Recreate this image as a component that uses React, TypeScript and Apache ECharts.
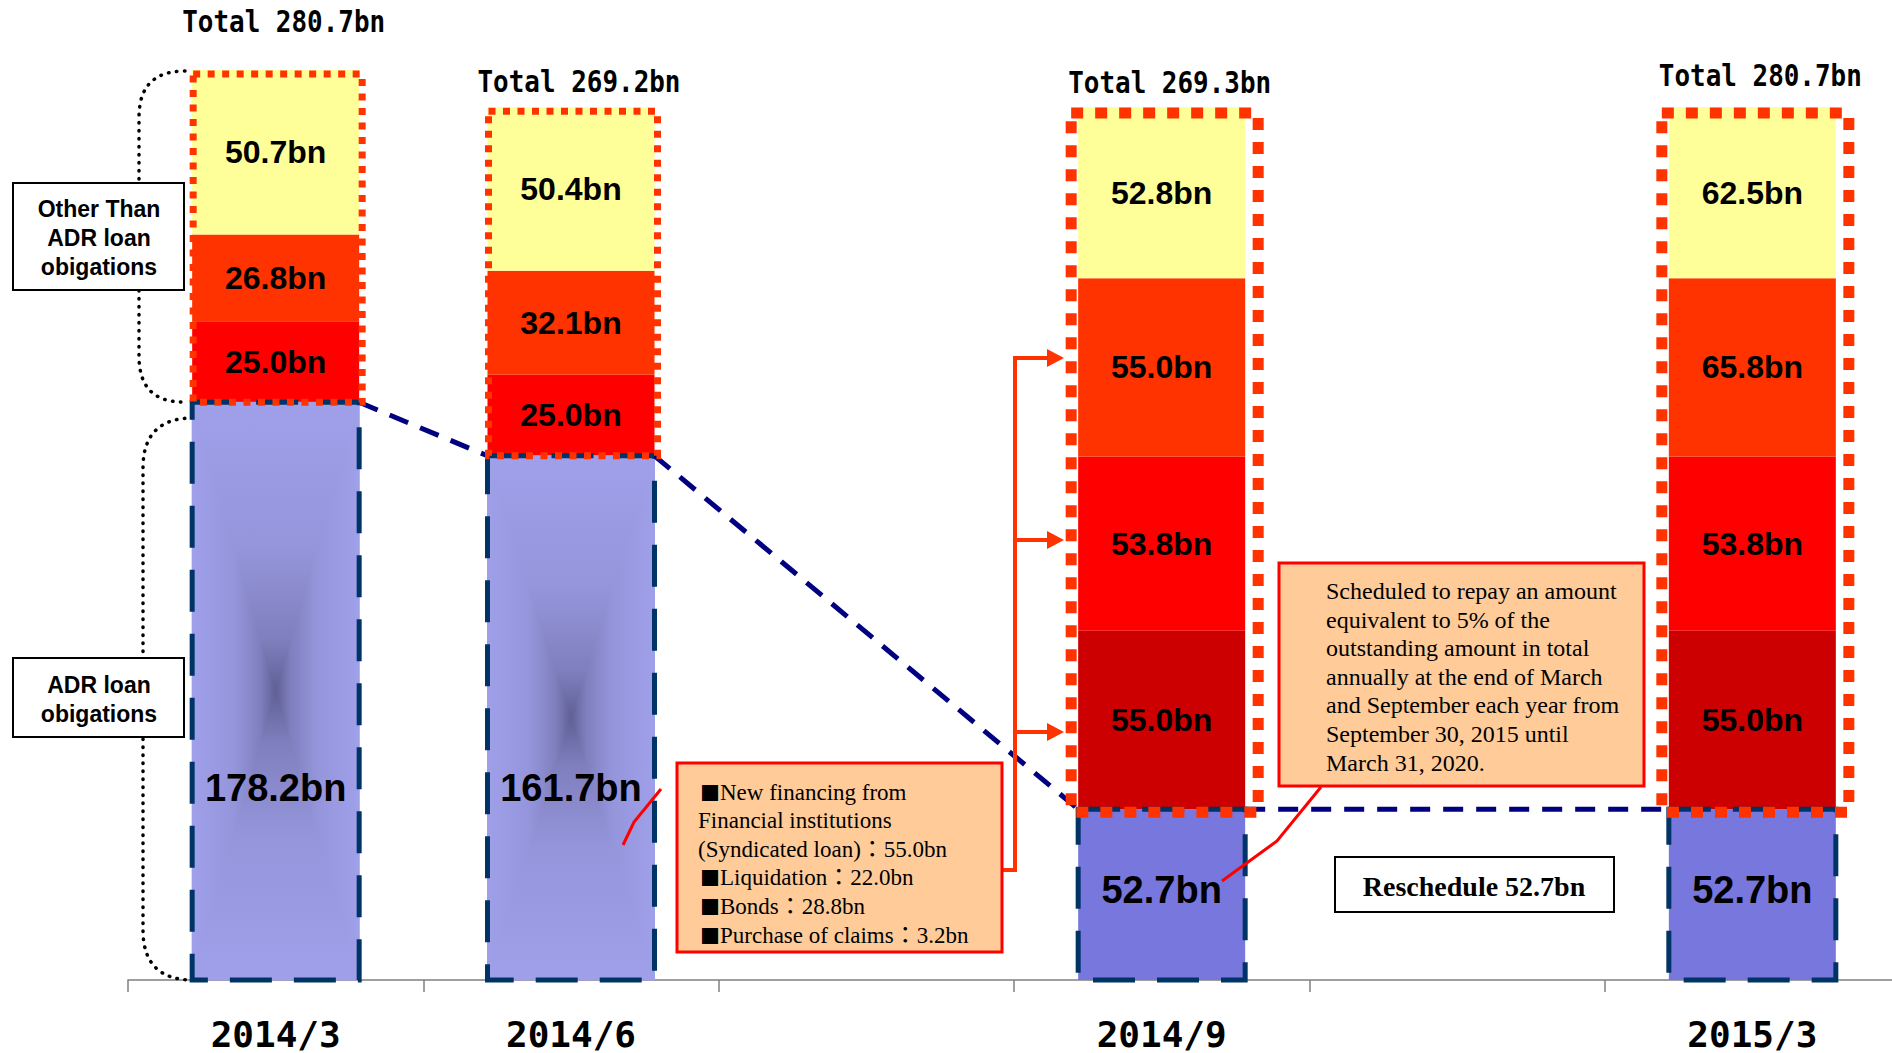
import React, { useEffect, useRef } from 'react';
import * as echarts from 'echarts';

// ---------------- data ----------------
const categories = ['2014/3', '2014/6', '', '2014/9', '', '2015/3'];
const adrLoan = [178.2, 161.7, null, 52.7, null, 52.7];
const newFinancing = [null, null, null, 55.0, null, 55.0];
const redSeg = [25.0, 25.0, null, 53.8, null, 53.8];
// drawn heights
const orangeSeg = [26.8, 32.1, null, 55.0, null, 55.0];
const yellowSeg = [50.7, 50.4, null, 52.8, null, 52.8];
// printed values
const orangeLabelValues = [26.8, 32.1, null, 55.0, null, 65.8];
const yellowLabelValues = [50.7, 50.4, null, 52.8, null, 62.5];
const totalLabelValues = [280.7, 269.2, null, 269.3, null, 280.7];

const newFinancingLines = [
  '{sq|■}New financing from',
  'Financial institutions',
  '(Syndicated loan)：55.0bn',
  '{sq|■}Liquidation：22.0bn',
  '{sq|■}Bonds：28.8bn',
  '{sq|■}Purchase of claims：3.2bn',
];
const scheduleLines = [
  'Scheduled to repay an amount',
  'equivalent to 5% of the',
  'outstanding amount in total',
  'annually at the end of March',
  'and September each year from',
  'September 30, 2015 until',
  'March 31, 2020.',
];

// ---------------- styles ----------------
const BAR_W = 167;
const Y_MAX = 302.3;
const ADR_LABEL_LEVEL = 59.2;
const totalLabelGap = [48, 25, 0, 24, 0, 31];
const SANS = '"Liberation Sans", Arial, sans-serif';
const MONO = '"DejaVu Sans Mono", monospace';
const SERIF = '"Liberation Serif", "Times New Roman", "Noto Sans CJK JP", serif';

const adrGradStops = [
  { offset: 0, color: '#A0A0EA' },
  { offset: 0.5, color: '#9595DC' },
  { offset: 0.82, color: '#7F7FBE' },
  { offset: 1, color: '#606096' },
];

echarts.graphic.registerShape(
  'braceShape',
  echarts.graphic.extendPath(
    'M185,71 Q139,71 139,117 L139,356 Q139,402 183,402 M193,418 Q143,418 143,468 L143,930 Q143,980 193,980',
    {}
  )
);

const fmt = (v: number | null) => (v == null ? '' : `${v.toFixed(1)}bn`);

const segLabel = (vals: (number | null)[]) => ({
  show: true,
  position: 'inside',
  color: '#000',
  fontSize: 32,
  fontWeight: 'bold',
  fontFamily: SANS,
  formatter: (p: any) => fmt(vals[p.dataIndex]),
});

const stackTotals = categories.map((_, i) =>
  adrLoan[i] == null
    ? null
    : (adrLoan[i] as number) + (newFinancing[i] || 0) + (redSeg[i] || 0) + (orangeSeg[i] || 0) + (yellowSeg[i] || 0)
);

const barIdx = categories.map((_, i) => i).filter((i) => adrLoan[i] != null);
const connectorPairs: number[][] = [];
for (let k = 0; k < barIdx.length - 1; k++) {
  const a = barIdx[k];
  const b = barIdx[k + 1];
  connectorPairs.push([a, adrLoan[a] as number, b, adrLoan[b] as number]);
}

function buildOption() {
  const lg = (x: number, y: number, x2: number, y2: number) =>
    new echarts.graphic.LinearGradient(x, y, x2, y2, adrGradStops);

  const graphics: any[] = [];
  graphics.push({
    type: 'braceShape',
    x: 0,
    y: 0,
    z: 1,
    style: { fill: 'none', stroke: '#000', lineWidth: 3.5, lineDash: [0.5, 7.5], lineCap: 'round' },
  });
  const box = (x: number, y: number, w: number, h: number, fill: string, stroke: string, lw: number) => ({
    type: 'rect',
    z: 10,
    shape: { x, y, width: w, height: h },
    style: { fill, stroke, lineWidth: lw },
  });
  const txt = (t: string, x: number, y: number, font: string, align = 'left', rich?: any) => ({
    type: 'text',
    z: 11,
    x,
    y,
    style: {
      text: t,
      fill: '#000',
      font,
      align,
      textAlign: align,
      verticalAlign: 'middle',
      textVerticalAlign: 'middle',
      ...(rich ? { rich } : {}),
    },
  });
  // left side boxes
  graphics.push(box(13, 183, 171, 107, '#fff', '#000', 2));
  ['Other Than', 'ADR loan', 'obigations'].forEach((t, i) =>
    graphics.push(txt(t, 99, 209 + i * 29, `bold 23px ${SANS}`, 'center'))
  );
  graphics.push(box(13, 658, 171, 79, '#fff', '#000', 2));
  ['ADR loan', 'obigations'].forEach((t, i) => graphics.push(txt(t, 99, 685 + i * 29, `bold 23px ${SANS}`, 'center')));

  // orange connector with arrows
  graphics.push({
    type: 'polyline',
    z: 9,
    shape: { points: [[1003, 870], [1015, 870], [1015, 356]] },
    style: { stroke: '#FF3300', lineWidth: 4, fill: 'none' },
  });
  [358, 540, 732].forEach((y) => {
    graphics.push({
      type: 'line',
      z: 9,
      shape: { x1: 1015, y1: y, x2: 1050, y2: y },
      style: { stroke: '#FF3300', lineWidth: 4 },
    });
    graphics.push({
      type: 'polygon',
      z: 9,
      shape: { points: [[1047, y - 9], [1064, y], [1047, y + 9]] },
      style: { fill: '#FF3300' },
    });
  });

  // red callout lines
  graphics.push({
    type: 'polyline',
    z: 12,
    shape: { points: [[661, 789], [634, 822], [623, 845]] },
    style: { stroke: '#FF0000', lineWidth: 3, fill: 'none' },
  });
  graphics.push({
    type: 'polyline',
    z: 12,
    shape: { points: [[1222, 881], [1277, 841], [1321, 787]] },
    style: { stroke: '#FF0000', lineWidth: 3, fill: 'none' },
  });

  // new financing box
  const sqRich = { sq: { font: '20px "Noto Sans CJK JP"', fill: '#000' } };
  graphics.push(box(677, 763, 325, 189, '#FFCC99', '#FF0000', 3));
  newFinancingLines.forEach((t, i) =>
    graphics.push(txt(t, i === 1 || i === 2 ? 698 : 700, 792 + i * 28.6, `23px ${SERIF}`, 'left', sqRich))
  );

  // schedule box
  graphics.push(box(1279, 563, 365, 223, '#FFCC99', '#FF0000', 3));
  scheduleLines.forEach((t, i) => graphics.push(txt(t, 1326, 591 + i * 28.6, `24px ${SERIF}`)));

  // reschedule box
  graphics.push(box(1335, 857, 279, 55, '#fff', '#000', 2));
  graphics.push(txt('Reschedule 52.7bn', 1474, 886, `bold 28px ${SERIF}`, 'center'));

  return {
    animation: false,
    backgroundColor: '#fff',
    grid: { left: 128, right: 0, top: 0, bottom: 73, containLabel: false },
    xAxis: {
      type: 'category',
      data: categories,
      boundaryGap: true,
      axisLine: { lineStyle: { color: '#7F7F7F', width: 1.5 } },
      axisTick: { show: true, interval: 0, length: 12, lineStyle: { color: '#7F7F7F', width: 1.5 } },
      axisLabel: {
        interval: 0,
        margin: 36,
        fontSize: 36,
        fontWeight: 'bold',
        fontFamily: MONO,
        color: '#000',
      },
      splitLine: { show: false },
    },
    yAxis: { type: 'value', min: 0, max: Y_MAX, show: false },
    series: [
      {
        name: 'ADR loan obligations',
        type: 'bar',
        stack: 'total',
        barWidth: BAR_W,
        z: 2,
        data: adrLoan.map((v, i) => ({ value: v, itemStyle: { color: i < 2 ? '#A0A0EA' : '#7777DD' } })),
      },
      {
        name: 'New financing',
        type: 'bar',
        stack: 'total',
        barWidth: BAR_W,
        z: 2,
        itemStyle: { color: '#CC0000' },
        label: segLabel(newFinancing),
        data: newFinancing,
      },
      {
        name: 'Red',
        type: 'bar',
        stack: 'total',
        barWidth: BAR_W,
        z: 2,
        itemStyle: { color: '#FF0000' },
        label: segLabel(redSeg),
        data: redSeg,
      },
      {
        name: 'Orange',
        type: 'bar',
        stack: 'total',
        barWidth: BAR_W,
        z: 2,
        itemStyle: { color: '#FF3300' },
        label: segLabel(orangeLabelValues),
        data: orangeSeg,
      },
      {
        name: 'Yellow',
        type: 'bar',
        stack: 'total',
        barWidth: BAR_W,
        z: 2,
        itemStyle: { color: '#FFFF99' },
        label: segLabel(yellowLabelValues),
        data: yellowSeg,
      },
      {
        name: 'adrOverlay',
        type: 'custom',
        z: 3,
        encode: { x: 0, y: 1 },
        data: barIdx.map((i) => [i, adrLoan[i]]),
        renderItem: (params: any, api: any) => {
          const cat = api.value(0);
          const v = api.value(1);
          const top = api.coord([cat, v]);
          const bot = api.coord([cat, 0]);
          const cx = top[0];
          const x0 = cx - BAR_W / 2;
          const x1 = cx + BAR_W / 2;
          const y0 = top[1];
          const y1 = bot[1];
          const my = (y0 + y1) / 2;
          const children: any[] = [];
          const grad = cat < 2;
          if (grad) {
            const mk = (pts: number[][], a: number, b: number, c: number, d: number) => ({
              type: 'polygon',
              shape: { points: pts },
              style: { fill: lg(a, b, c, d), stroke: lg(a, b, c, d), lineWidth: 1 },
            });
            children.push(mk([[x0, y0], [x1, y0], [cx, my]], 0, 0, 0, 1));
            children.push(mk([[x0, y1], [x1, y1], [cx, my]], 0, 1, 0, 0));
            children.push(mk([[x0, y0], [x0, y1], [cx, my]], 0, 0, 1, 0));
            children.push(mk([[x1, y0], [x1, y1], [cx, my]], 1, 0, 0, 0));
          }
          children.push({
            type: 'rect',
            shape: { x: x0, y: y0, width: BAR_W, height: y1 - y0 },
            style: { fill: 'none', stroke: '#003366', lineWidth: 5, lineDash: [42, 22] },
          });
          const ly = grad ? api.coord([cat, ADR_LABEL_LEVEL])[1] : my - 5;
          children.push({
            type: 'text',
            x: cx,
            y: ly,
            style: {
              text: fmt(v),
              fill: '#000',
              font: `bold 38px ${SANS}`,
              align: 'center',
              textAlign: 'center',
              verticalAlign: 'middle',
              textVerticalAlign: 'middle',
            },
          });
          return { type: 'group', children };
        },
      },
      {
        name: 'connector',
        type: 'custom',
        z: 4,
        encode: { x: 0, y: 1 },
        data: connectorPairs,
        renderItem: (params: any, api: any) => {
          const a = api.coord([api.value(0), api.value(1)]);
          const b = api.coord([api.value(2), api.value(3)]);
          return {
            type: 'polyline',
            shape: { points: [[a[0] + BAR_W / 2, a[1]], [b[0] - BAR_W / 2, b[1]]] },
            style: { stroke: '#000080', lineWidth: 5, lineDash: [20, 13], fill: 'none' },
          };
        },
      },
      {
        name: 'frames',
        type: 'custom',
        z: 5,
        encode: { x: 0, y: 2 },
        data: barIdx.map((i) => [i, adrLoan[i], stackTotals[i]]),
        renderItem: (params: any, api: any) => {
          const cat = api.value(0);
          const a = api.coord([cat, api.value(1)]);
          const t = api.coord([cat, api.value(2)]);
          const cx = a[0];
          const big = newFinancing[cat] != null;
          const pad = big ? { l: -7, r: 13, t: 6, b: 3 } : { l: 1, r: 3, t: 4, b: 0 };
          const x = cx - BAR_W / 2 + pad.l;
          const y = t[1] + pad.t;
          return {
            type: 'group',
            children: [
              {
                type: 'rect',
                shape: { x, y, width: BAR_W - pad.l + pad.r, height: a[1] + pad.b - y },
                style: {
                  fill: 'none',
                  stroke: '#FF3300',
                  lineWidth: big ? 11 : 7,
                  lineDash: big ? [12, 12] : [7, 7.5],
                },
              },
              {
                type: 'text',
                x: cx + 8,
                y: t[1] - totalLabelGap[cat],
                scaleX: 0.865,
                style: {
                  text: `Total ${(totalLabelValues[cat] as number).toFixed(1)}bn`,
                  fill: '#000',
                  font: `bold 30px ${MONO}`,
                  align: 'center',
                  textAlign: 'center',
                  verticalAlign: 'middle',
                  textVerticalAlign: 'middle',
                },
              },
            ],
          };
        },
      },
    ],
    graphic: { elements: graphics },
  };
}

export default function App() {
  const ref = useRef<HTMLDivElement>(null);
  useEffect(() => {
    const chart = echarts.init(ref.current as HTMLDivElement, null, { renderer: 'svg' });
    chart.setOption(buildOption() as any);
    return () => chart.dispose();
  }, []);
  return (
    <div
      ref={ref}
      style={{ position: 'fixed', left: 0, top: 0, width: 1900, height: 1053, background: '#fff' }}
    />
  );
}
